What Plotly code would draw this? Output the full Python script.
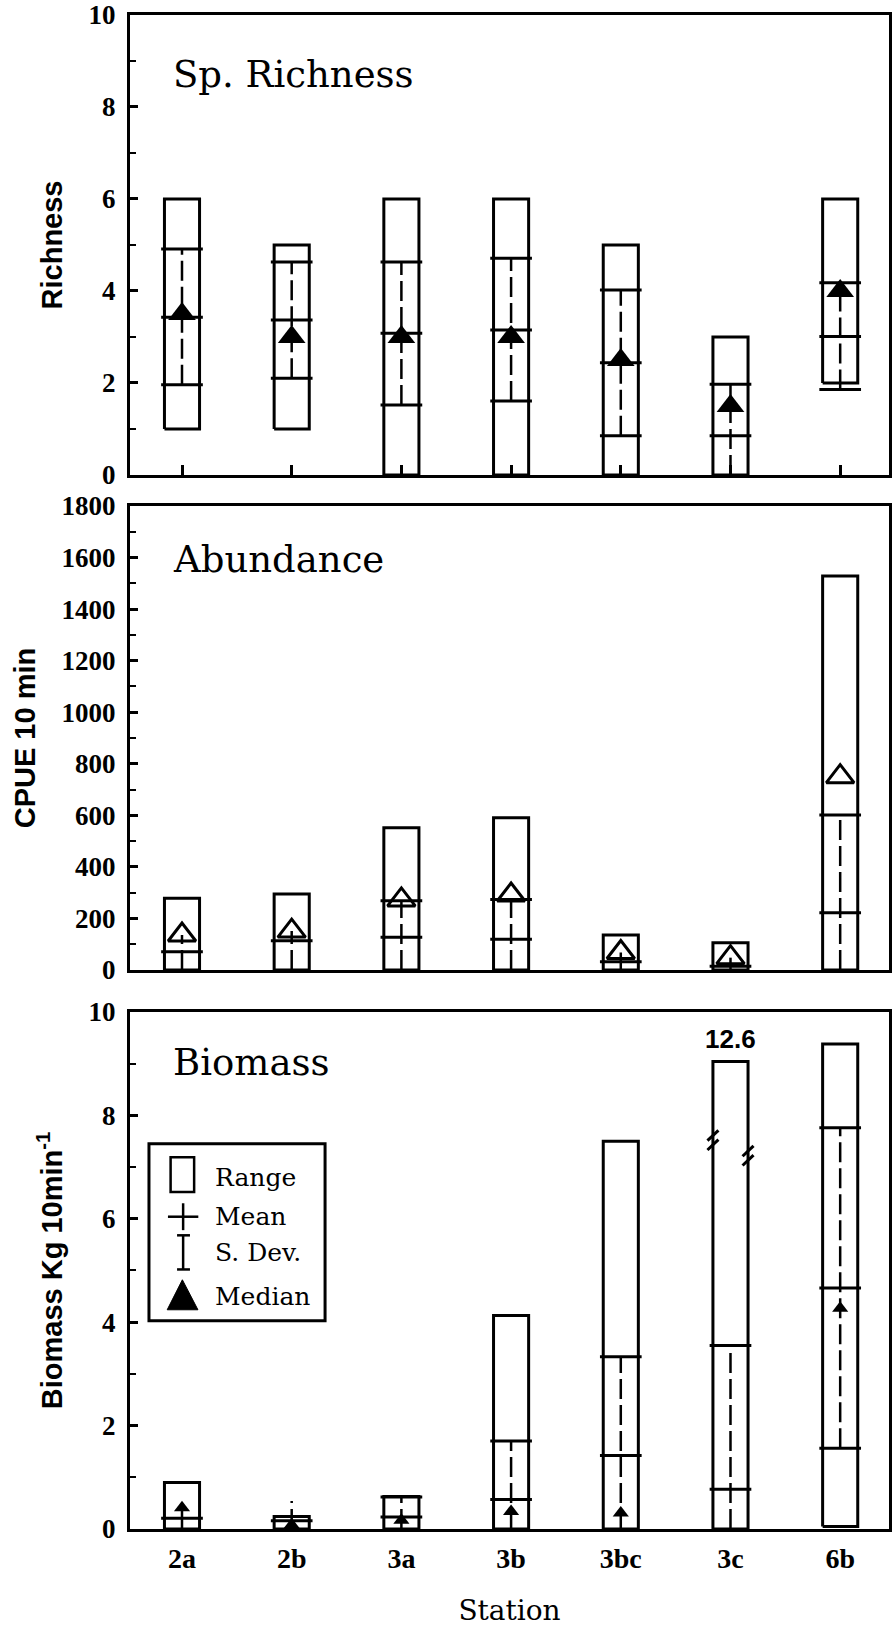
import plotly.graph_objects as go

# ---------------- data ----------------
stations = ["2a", "2b", "3a", "3b", "3bc", "3c", "6b"]

# Species richness
rich_min = [1, 1, 0, 0, 0, 0, 2]
rich_max = [6, 5, 6, 6, 5, 3, 6]
rich_mean = [3.43, 3.37, 3.08, 3.15, 2.44, 0.85, 3.01]
rich_sd_hi = [4.91, 4.63, 4.63, 4.71, 4.02, 1.97, 4.18]
rich_sd_lo = [1.96, 2.10, 1.52, 1.61, 0.85, None, 1.86]
rich_median = [3.5, 3.0, 3.0, 3.0, 2.5, 1.5, 4.0]

# Abundance (CPUE 10 min)
abund_min = [0, 0, 0, 0, 0, 0, 0]
abund_max = [278, 295, 552, 591, 136, 106, 1528]
abund_mean = [71, 114, 127, 119, 32, 15, 222]
abund_sd_hi = [None, None, 269, 274, None, None, 601]
abund_sd_lo = [None, None, None, None, -49, -65, None]
abund_median = [136, 151, 272, 291, 68, 48, 750]

# Biomass (Kg 10min-1)
bio_min = [0, 0, 0, 0, 0, 0, 0.05]
bio_max = [0.90, 0.24, 0.63, 4.13, 7.50, 12.6, 9.38]
bio_max_shown = [None, None, None, None, None, 9.04, None]   # broken bar
bio_mean = [0.21, 0.16, 0.23, 0.57, 1.42, 0.77, 4.66]
bio_sd_hi = [None, 0.54, 0.62, 1.70, 3.33, 3.55, 7.76]
bio_sd_lo = [-0.17, -0.20, -0.15, None, None, None, 1.56]
bio_median = [0.41, 0.08, 0.17, 0.34, 0.31, None, 4.27]
bio_break_marks = [7.52, 7.22]   # y of break marks on left / right edge

# ---------------- styling ----------------
BOX_HALF = 0.16
CAP_HALF = 0.19
LW = 3
PLOT_H = 1627 - 15 - 98
domains = {1: [0.6962, 1.0], 2: [0.3692, 0.6757], 3: [0.0, 0.3415]}
ranges = {1: [0, 10], 2: [0, 1800], 3: [0, 10]}

fig = go.Figure()


def add_panel(n, vmin, vmax, mean, sd_hi, sd_lo, median, med_marker,
              max_shown=None):
    xa = "x" if n == 1 else f"x{n}"
    ya = "y" if n == 1 else f"y{n}"
    bx, by = [], []
    vx, vy = [], []
    cx, cy = [], []
    for i in range(len(vmin)):
        top = vmax[i]
        if max_shown is not None and max_shown[i] is not None:
            top = max_shown[i]
        bx += [i - BOX_HALF, i + BOX_HALF, i + BOX_HALF, i - BOX_HALF, i - BOX_HALF, None]
        by += [vmin[i], vmin[i], top, top, vmin[i], None]
        # vertical S.D. line
        lo = sd_lo[i] if (sd_lo[i] is not None and sd_lo[i] >= 0) else 0
        if sd_hi[i] is not None:
            hi = sd_hi[i]
        elif median[i] is not None:
            hi = median[i]
        else:
            hi = mean[i]
        vx += [i, i, None]
        vy += [lo, hi, None]
        # caps
        if sd_hi[i] is not None and sd_hi[i] <= top:
            cx += [i - CAP_HALF, i + CAP_HALF, None]
            cy += [sd_hi[i], sd_hi[i], None]
        if sd_lo[i] is not None and sd_lo[i] >= 0:
            cx += [i - CAP_HALF, i + CAP_HALF, None]
            cy += [sd_lo[i], sd_lo[i], None]
        # mean
        cx += [i - CAP_HALF, i + CAP_HALF, None]
        cy += [mean[i], mean[i], None]

    fig.add_trace(go.Scatter(x=bx, y=by, mode="lines", xaxis=xa, yaxis=ya,
                             line=dict(color="black", width=LW), showlegend=False,
                             hoverinfo="skip"))
    fig.add_trace(go.Scatter(x=vx, y=vy, mode="lines", xaxis=xa, yaxis=ya,
                             line=dict(color="black", width=2.5, dash="20px,6px"),
                             showlegend=False, hoverinfo="skip"))
    fig.add_trace(go.Scatter(x=cx, y=cy, mode="lines", xaxis=xa, yaxis=ya,
                             line=dict(color="black", width=LW), showlegend=False,
                             hoverinfo="skip"))
    # S.D. lines that run below the axis
    r = ranges[n]
    px_per_unit = PLOT_H * (domains[n][1] - domains[n][0]) / (r[1] - r[0])
    ex, ey, es = [], [], []
    for i, v in enumerate(sd_lo):
        if v is not None and v < 0:
            ex.append(i)
            ey.append(v / 2)
            es.append(abs(v) * px_per_unit)
    if ex:
        fig.add_trace(go.Scatter(x=ex, y=ey, mode="markers", xaxis=xa, yaxis=ya,
                                 cliponaxis=False,
                                 marker=dict(symbol="line-ns", size=es,
                                             line=dict(color="black", width=2.5)),
                                 showlegend=False, hoverinfo="skip"))
    mx = [i for i, v in enumerate(median) if v is not None]
    my = [v for v in median if v is not None]
    fig.add_trace(go.Scatter(x=mx, y=my, mode="markers", xaxis=xa, yaxis=ya,
                             marker=med_marker, showlegend=False, hoverinfo="skip",
                             cliponaxis=False))


add_panel(1, rich_min, rich_max, rich_mean, rich_sd_hi, rich_sd_lo, rich_median,
          dict(symbol="triangle-up", size=24, color="black"))
add_panel(2, abund_min, abund_max, abund_mean, abund_sd_hi, abund_sd_lo, abund_median,
          dict(symbol="triangle-up-open", size=24, color="black",
               line=dict(color="black", width=3)))
add_panel(3, bio_min, bio_max, bio_mean, bio_sd_hi, bio_sd_lo, bio_median,
          dict(symbol="triangle-up", size=14, color="black"),
          max_shown=bio_max_shown)

# broken bar: break marks and true maximum label
for i, shown in enumerate(bio_max_shown):
    if shown is None:
        continue
    for side, yb in zip([-1, 1], bio_break_marks):
        xs, ys = [], []
        for off in (-0.09, 0.09):
            xs += [i + side * BOX_HALF - 0.05, i + side * BOX_HALF + 0.05, None]
            ys += [yb + off - 0.1, yb + off + 0.1, None]
        fig.add_trace(go.Scatter(x=xs, y=ys, mode="lines", xaxis="x3", yaxis="y3",
                                 line=dict(color="black", width=3), showlegend=False,
                                 hoverinfo="skip"))
    fig.add_annotation(x=i, y=shown, xref="x3", yref="y3", text=f"{bio_max[i]}",
                       showarrow=False, yanchor="bottom", yshift=6,
                       font=dict(family="Liberation Sans", size=26, color="black",
                                 weight="bold"))

# ---------------- axes ----------------
tickfont = dict(family="Liberation Serif", size=27, color="black", weight="bold")
xrange_ = [-0.474, 6.445]


def yax(n, dtick, title):
    return dict(domain=domains[n], range=ranges[n], anchor="x" if n == 1 else f"x{n}",
                automargin=False,
                showline=True, mirror=True, linecolor="black", linewidth=LW,
                ticks="inside", ticklen=8, tickwidth=2.5, tickcolor="black",
                tick0=0, dtick=dtick, showgrid=False, zeroline=False,
                tickfont=tickfont, ticklabelstandoff=6,
                minor=dict(ticks="inside", ticklen=6, tickwidth=2, tickcolor="black",
                           dtick=dtick / 2, tick0=0, showgrid=False),
                title=dict(text=title, standoff=18,
                           font=dict(family="Liberation Sans", size=29, color="black",
                                     weight="bold")))


fig.update_layout(
    width=893, height=1627,
    margin=dict(l=130, r=4, t=15, b=98, autoexpand=False),
    paper_bgcolor="white", plot_bgcolor="white",
    showlegend=False,
    xaxis=dict(domain=[0, 1], range=xrange_, anchor="y", tickvals=list(range(len(stations))),
               automargin=False,
               ticks="inside", ticklen=10, tickwidth=2.5, tickcolor="black",
               showticklabels=False, showline=True, mirror=True, linecolor="black",
               linewidth=LW, showgrid=False, zeroline=False),
    xaxis2=dict(domain=[0, 1], range=xrange_, anchor="y2", tickvals=[],
                automargin=False,
                showticklabels=False, showline=True, mirror=True, linecolor="black",
                linewidth=LW, showgrid=False, zeroline=False),
    xaxis3=dict(domain=[0, 1], range=xrange_, anchor="y3",
                automargin=False,
                tickvals=list(range(len(stations))), ticktext=stations,
                ticks="", tickfont=dict(family="Liberation Serif", size=28, color="black",
                                        weight="bold"),
                ticklabelstandoff=2,
                showline=True, mirror=True, linecolor="black", linewidth=LW,
                showgrid=False, zeroline=False,
                title=dict(text="Station", standoff=33,
                           font=dict(family="DejaVu Serif", size=28, color="black"))),
    yaxis=yax(1, 2, "Richness"),
    yaxis2=yax(2, 200, "CPUE 10 min"),
    yaxis3=yax(3, 2, "Biomass Kg 10min<sup>-1</sup>"),
)

# panel titles
titlefont = dict(family="DejaVu Serif", size=37, color="black")
for n, txt, yy in [(1, "Sp. Richness", 0.870), (2, "Abundance", 0.885), (3, "Biomass", 0.902)]:
    xr = "x" if n == 1 else f"x{n}"
    yr = "y" if n == 1 else f"y{n}"
    fig.add_annotation(x=0.054, y=yy, xref=f"{xr} domain", yref=f"{yr} domain",
                       text=txt, showarrow=False, xanchor="left", yanchor="middle",
                       font=titlefont)

# ---------------- hand-drawn key (legend) ----------------
XD, YD = "x3 domain", "y3 domain"
shapes = [
    dict(type="rect", xref=XD, yref=YD, x0=0.025, x1=0.257, y0=0.403, y1=0.745,
         line=dict(color="black", width=3), fillcolor="white", layer="above"),
    dict(type="rect", xref=XD, yref=YD, x0=0.0535, x1=0.0845, y0=0.652, y1=0.719,
         line=dict(color="black", width=2.5), layer="above"),
    dict(type="line", xref=XD, yref=YD, x0=0.050, x1=0.090, y0=0.604, y1=0.604,
         line=dict(color="black", width=2.5), layer="above"),
    dict(type="line", xref=XD, yref=YD, x0=0.070, x1=0.070, y0=0.578, y1=0.630,
         line=dict(color="black", width=2.5), layer="above"),
    dict(type="line", xref=XD, yref=YD, x0=0.070, x1=0.070, y0=0.502, y1=0.568,
         line=dict(color="black", width=2.5), layer="above"),
    dict(type="line", xref=XD, yref=YD, x0=0.062, x1=0.079, y0=0.568, y1=0.568,
         line=dict(color="black", width=2.5), layer="above"),
    dict(type="line", xref=XD, yref=YD, x0=0.062, x1=0.079, y0=0.502, y1=0.502,
         line=dict(color="black", width=2.5), layer="above"),
    dict(type="path", xref=XD, yref=YD, path="M 0.049 0.424 L 0.0895 0.424 L 0.069 0.482 Z",
         fillcolor="black", line=dict(color="black", width=1), layer="above"),
]
fig.update_layout(shapes=shapes)
legfont = dict(family="DejaVu Serif", size=25, color="black")
for txt, yy in [("Range", 0.679), ("Mean", 0.604), ("S. Dev.", 0.534), ("Median", 0.449)]:
    fig.add_annotation(x=0.109, y=yy, xref=XD, yref=YD, text=txt, showarrow=False,
                       xanchor="left", yanchor="middle", font=legfont)

fig.write_html("out.html", config={"displayModeBar": False},
               post_script="document.body.style.margin='0';document.body.style.overflow='hidden';")
